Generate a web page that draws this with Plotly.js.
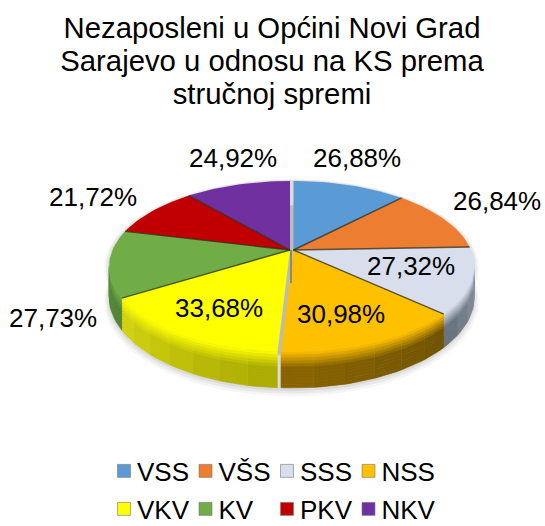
<!DOCTYPE html>
<html><head><meta charset="utf-8">
<script src="https://cdn.plot.ly/plotly-3.0.1.min.js"></script>
<style>
html,body{margin:0;padding:0;background:#fff;overflow:hidden}
#c{width:545px;height:526px}
.legendsymbols{transform:translateX(7px)}
.scrollbox{clip-path:none !important}
</style></head><body><div id="c"></div>
<script>
const titleLines = ["Nezaposleni u Općini Novi Grad","Sarajevo u odnosu na KS prema","stručnoj spremi"];
const categories = ["VSS","VŠS","SSS","NSS","VKV","KV","PKV","NKV"];
const values = [26.88,26.84,27.32,30.98,33.68,27.73,21.72,24.92];
const colors = ["#5b9bd5","#ed7d31","#d8deec","#ffc000","#ffff00","#70ad47","#c00000","#7030a0"];
const darkStart = [null,null,"#8b94a0","#6f5200","#a9a900","#4f8033",null,null];
const darkEnd   = [null,null,"#626d79","#8a6400","#d4d410","#558a36",null,null];
const offsets = [2,2,2,2,-1.5,-1.5,-1.5,-1.5];
const labelX = [357,497,411,341,219,53,93,233];
const labelY = [158,201,266,314,308,318,197,158];
const legendRow = [0,0,0,0,1,1,1,1];

// pie geometry on the hidden pixel-like axes
const CX=291.5, CY=250, RX=177.5, RY=82.3, P=0.193, DEPTH=29;
const rad=d=>d*Math.PI/180;
function proj(th,dx,down,scale){
  const s=scale||1, u=Math.sin(rad(th))*s, v=Math.cos(rad(th))*s, k=1/(1+P*v);
  return [CX+dx+RX*u*k, CY-RY*v*k+(down||0)*k];
}
function arc(a,b,dx,down,scale,step){
  const n=Math.max(1,Math.ceil(Math.abs(b-a)/(step||2))),pts=[];
  for(let i=0;i<=n;i++)pts.push(proj(a+(b-a)*i/n,dx,down,scale));
  return pts;
}
const hex=c=>[1,3,5].map(i=>parseInt(c.substr(i,2),16));
const mix=(a,b,t)=>{const A=hex(a),B=hex(b);return "rgb("+A.map((x,i)=>Math.round(x+(B[i]-x)*t)).join(",")+")";};
const toHex=c=>"#"+c.match(/\d+/g).map(x=>(+x).toString(16).padStart(2,"0")).join("");

const total=values.reduce((a,b)=>a+b,0);
let cum=0; const starts=[],ends=[];
values.forEach(v=>{starts.push(cum/total*360);cum+=v;ends.push(cum/total*360);});

const traces=[];
const poly=(pts,color,lw)=>traces.push({type:"scatter",mode:"lines",x:pts.map(p=>p[0]),y:pts.map(p=>p[1]),
  fill:"toself",fillcolor:color,line:{color:color,width:lw||0},hoverinfo:"skip",showlegend:false});

// soft shadow
[[1.035,DEPTH+3,0.035],[1.025,DEPTH+2,0.05],[1.015,DEPTH+1,0.06]].forEach(s=>{
  const top=arc(0,360,0,0,s[0]), bot=arc(0,360,0,s[1],s[0]);
  poly(top,"rgba(0,0,0,"+s[2]+")"); poly(bot,"rgba(0,0,0,"+s[2]+")");
});

// extruded wall, shaded in small cells
const FROM=101, TO=259, BANDS=12, PIECE=8;
values.forEach((v,i)=>{
  if(!darkStart[i])return;
  const a=Math.max(starts[i],FROM), b=Math.min(ends[i],TO);
  const n=Math.max(1,Math.round((b-a)/PIECE));
  for(let j=0;j<n;j++){
    const a0=a+(b-a)*j/n, a1=a+(b-a)*(j+1)/n;
    const dark=mix(darkStart[i],darkEnd[i],(j+.5)/n);
    for(let q=0;q<BANDS;q++){
      const t=(q+.5)/BANDS, f=Math.min(1,t/0.45);
      const top=arc(a0,a1,offsets[i],DEPTH*q/BANDS,1,2), bot=arc(a1,a0,offsets[i],DEPTH*(q+1)/BANDS,1,2);
      const c=mix(colors[i],toHex(dark),f);
      poly(top.concat(bot),c,0.7);
    }
  }
});

// top surface
values.forEach((v,i)=>{
  const pts=[[CX+offsets[i],CY]].concat(arc(starts[i],ends[i],offsets[i]));
  pts.push(pts[0]);
  poly(pts,colors[i]);
});

// dark seams between slices
const sx=[],sy=[];
[0,1,2,4,5,6].forEach(i=>{
  const e=proj(ends[i],offsets[i]);
  sx.push(CX+offsets[i],e[0],null); sy.push(CY,e[1],null);
});
traces.push({type:"scatter",mode:"lines",x:sx,y:sy,line:{color:"rgba(45,45,25,0.75)",width:1.4},hoverinfo:"skip",showlegend:false});
// inner wall visible in the gap
traces.push({type:"scatter",mode:"lines",x:[CX-0.5,CX-0.5],y:[CY,CY+33],line:{color:"rgba(110,115,95,0.9)",width:1.5},hoverinfo:"skip",showlegend:false});

// legend entries
categories.forEach((c,i)=>traces.push({type:"scatter",mode:"markers",x:[null],y:[null],name:c,
  marker:{symbol:"square",size:13,color:colors[i],line:{color:"rgba(120,120,120,.6)",width:1}},
  legend:legendRow[i]?"legend2":"legend",hoverinfo:"skip"}));

const fmt=v=>v.toFixed(2).replace(".",",")+"%";
const FONT='"Liberation Sans", Arial, sans-serif';
const legendBase={orientation:"h",xanchor:"left",yanchor:"middle",x:97/545,bgcolor:"rgba(0,0,0,0)",
  entrywidth:36.5,entrywidthmode:"pixels",font:{family:FONT,size:26,color:"#000"},itemclick:false,itemdoubleclick:false};
const layout={
  width:545,height:526,margin:{l:0,r:0,t:0,b:0,autoexpand:false},paper_bgcolor:"#fff",plot_bgcolor:"#fff",
  title:{text:titleLines.map(s=>'<span style="font-size:29.3px">'+s+'</span>').join("<br>"),
    x:272/545,xanchor:"center",y:0.928,yanchor:"top",font:{family:FONT,size:25.4,color:"#000"}},
  xaxis:{range:[0,545],visible:false,fixedrange:true},
  yaxis:{range:[526,0],visible:false,fixedrange:true},
  showlegend:true,
  legend:Object.assign({},legendBase,{y:1-471/526}),
  legend2:Object.assign({},legendBase,{y:1-509/526}),
  annotations:values.map((v,i)=>({text:fmt(v),x:labelX[i],y:labelY[i],xref:"x",yref:"y",showarrow:false,
    xanchor:"center",yanchor:"middle",font:{family:FONT,size:26,color:"#000"}}))
};
Plotly.newPlot("c",traces,layout,{displayModeBar:false,staticPlot:true});
</script></body></html>
